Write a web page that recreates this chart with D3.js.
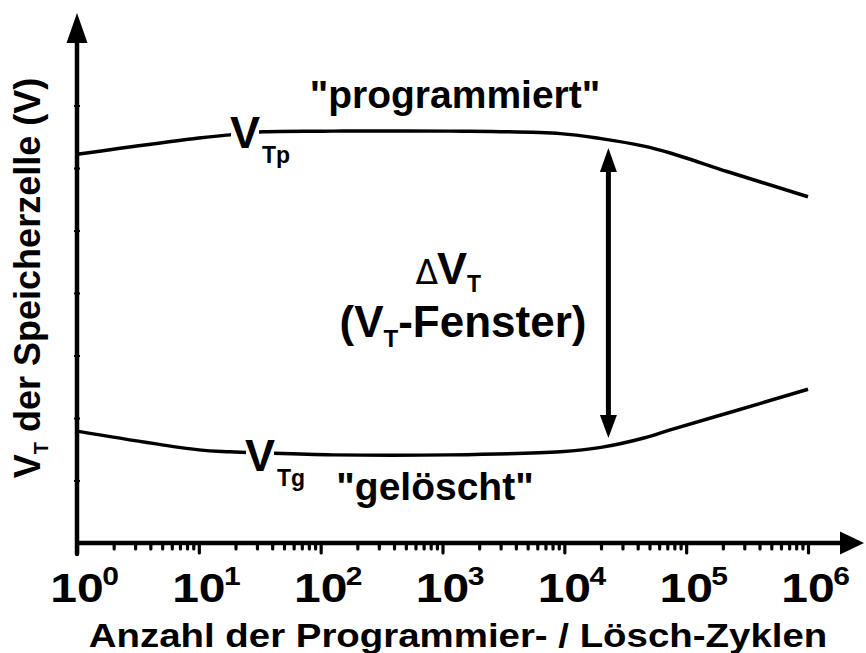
<!DOCTYPE html>
<html>
<head>
<meta charset="utf-8">
<script src="https://cdn.jsdelivr.net/npm/d3@7"></script>
<style>
  html, body { margin: 0; padding: 0; background: #fff; }
  svg { display: block; }
  text { font-family: "Liberation Sans", Arial, Helvetica, sans-serif; font-weight: bold; fill: #000; }
  text.delta { font-family: "DejaVu Sans", sans-serif; font-weight: normal; }
</style>
</head>
<body>
<svg id="chart" width="866" height="653"></svg>
<script>
// Program/erase cycles at which the threshold voltages are sampled
const cycles = [1, 10, 18, 34, 126, 1150, 9300, 20000, 45000, 74000, 220000, 1000000];
// Threshold voltage in the programmed state (V_Tp), arbitrary volts
const vtProgrammed = [6.22, 6.48, 6.53, 6.58, 6.59, 6.59, 6.55, 6.47, 6.35, 6.24, 5.94, 5.54];
// Threshold voltage in the erased state (V_Tg), arbitrary volts
const vtErased = [1.79, 1.49, 1.46, 1.44, 1.41, 1.41, 1.46, 1.53, 1.68, 1.81, 2.08, 2.46];
// Decade exponents for the x tick labels
const decadeExponents = [0, 1, 2, 3, 4, 5, 6];
// Unlabelled y ticks
const yTicks = [1, 2, 3, 4, 5, 6, 7];
// Cycle count where the window arrow is drawn
const windowCycle = 23000;

const svg = d3.select("#chart");

const x = d3.scaleLog().domain([1, 1e6]).range([77, 808]);
const y = d3.scaleLinear().domain([0, 7]).range([543, 105.5]);

const axisY0 = y(0);
const axisX0 = x(1);

// ---- x axis (log, ticks below the line) ----
const majors = decadeExponents.map(e => Math.pow(10, e));
const minors = [];
for (let e = 0; e < 6; e++) for (let m = 2; m <= 9; m++) minors.push(m * Math.pow(10, e));

const xAxisMinor = d3.axisBottom(x).tickValues(minors).tickSize(6).tickFormat("");
const xAxisMajor = d3.axisBottom(x).tickValues(majors).tickSize(10).tickFormat("");

const gxMinor = svg.append("g").attr("transform", `translate(0,${axisY0})`).call(xAxisMinor);
const gxMajor = svg.append("g").attr("transform", `translate(0,${axisY0})`).call(xAxisMajor);
[gxMinor, gxMajor].forEach(g => {
  g.select(".domain").remove();
  g.selectAll(".tick line").attr("stroke", "#000").attr("stroke-width", 3.2).attr("stroke-linecap", "round");
});

// axis line with arrow head
svg.append("line")
  .attr("x1", axisX0).attr("x2", 842)
  .attr("y1", axisY0).attr("y2", axisY0)
  .attr("stroke", "#000").attr("stroke-width", 4.5);
svg.append("path")
  .attr("d", `M840,${axisY0 - 11.5} L864,${axisY0} L840,${axisY0 + 11.5} Z`)
  .attr("fill", "#000");

// ---- y axis ----
const yAxis = d3.axisLeft(y).tickValues(yTicks).tickSize(3).tickFormat("");
const gy = svg.append("g").attr("transform", `translate(${axisX0},0)`).call(yAxis);
gy.select(".domain").remove();
gy.selectAll(".tick line").attr("x1", -3).attr("x2", 3).attr("stroke", "#000").attr("stroke-width", 2);

svg.append("line")
  .attr("x1", axisX0).attr("x2", axisX0)
  .attr("y1", axisY0 + 11).attr("y2", 40)
  .attr("stroke", "#000").attr("stroke-width", 4.5).attr("stroke-linecap", "round");
svg.append("path")
  .attr("d", `M${axisX0 - 10.5},43 L${axisX0},13 L${axisX0 + 10.5},43 Z`)
  .attr("fill", "#000");

// ---- x tick labels: 10^n ----
const tickLabels = svg.append("g");
decadeExponents.forEach(e => {
  const g = tickLabels.append("g")
    .attr("transform", `translate(${x(Math.pow(10, e))},602) scale(1.2,1)`);
  g.append("text").attr("text-anchor", "middle").style("font-size", "40px").text("10");
  g.append("text").attr("x", 21).attr("y", -17).style("font-size", "25px").text(e);
});

// ---- curves ----
const line = d3.line()
  .x(d => x(d[0]))
  .y(d => y(d[1]))
  .curve(d3.curveCatmullRom.alpha(0.5));

svg.append("path")
  .datum(cycles.map((c, i) => [c, vtProgrammed[i]]))
  .attr("d", line)
  .attr("fill", "none").attr("stroke", "#000").attr("stroke-width", 3.5);

svg.append("path")
  .datum(cycles.map((c, i) => [c, vtErased[i]]))
  .attr("d", line)
  .attr("fill", "none").attr("stroke", "#000").attr("stroke-width", 3.5);

// ---- curve labels V_Tp / V_Tg with a white knockout behind the V ----
function curveLabel(xLeft, baseline, sub) {
  const g = svg.append("g");
  const v = g.append("text").attr("x", xLeft).attr("y", baseline).style("font-size", "45px").text("V");
  const bb = v.node().getBBox();
  g.insert("rect", "text")
    .attr("x", bb.x + 1).attr("y", bb.y + 6).attr("width", bb.width - 2).attr("height", bb.height - 12)
    .attr("fill", "#fff");
  g.append("text").attr("x", bb.x + bb.width + 2).attr("y", baseline + 15)
    .style("font-size", "23px").text(sub);
}
curveLabel(230, 148, "Tp");
curveLabel(245, 471, "Tg");

// ---- state labels ----
function stretched(cx, baseline, size, sx, build) {
  const g = svg.append("g").attr("transform", `translate(${cx},${baseline}) scale(${sx},1)`);
  const t = g.append("text").attr("text-anchor", "middle").style("font-size", size + "px");
  build(t);
  return t;
}
stretched(455, 108, 39, 1.0, t => t.text("\"programmiert\""));
stretched(435, 500, 39, 1.0, t => t.text("\"gelöscht\""));

// ---- window annotation: thin delta, then bold V_T ----
svg.append("text").attr("class", "delta")
  .attr("x", 438).attr("y", 284).attr("text-anchor", "end")
  .style("font-size", "33px").text("\u0394");
const dv = svg.append("text").attr("x", 437).attr("y", 284).style("font-size", "45px");
dv.append("tspan").text("V");
dv.append("tspan").attr("dy", 8).style("font-size", "23px").text("T");

stretched(463, 337, 44, 1.0, t => {
  t.append("tspan").text("(V");
  t.append("tspan").attr("dy", 10).style("font-size", "24px").text("T");
  t.append("tspan").attr("dy", -10).text("-Fenster)");
});

// double-headed arrow spanning the window
const ax = x(windowCycle);
svg.append("line")
  .attr("x1", ax).attr("x2", ax).attr("y1", 170).attr("y2", 417)
  .attr("stroke", "#000").attr("stroke-width", 5);
svg.append("path").attr("d", `M${ax - 8.5},172 L${ax},148 L${ax + 8.5},172 Z`).attr("fill", "#000");
svg.append("path").attr("d", `M${ax - 8.5},415 L${ax},438 L${ax + 8.5},415 Z`).attr("fill", "#000");

// ---- axis titles ----
stretched(458, 647, 34, 1.13, t => t.text("Anzahl der Programmier- / Lösch-Zyklen"));

const yt = svg.append("g").attr("transform", `translate(40,278) rotate(-90)`)
  .append("text").attr("text-anchor", "middle").style("font-size", "36px");
yt.append("tspan").text("V");
yt.append("tspan").attr("dy", 8).style("font-size", "20px").text("T");
yt.append("tspan").attr("dy", -8).text(" der Speicherzelle (V)");
</script>
</body>
</html>
